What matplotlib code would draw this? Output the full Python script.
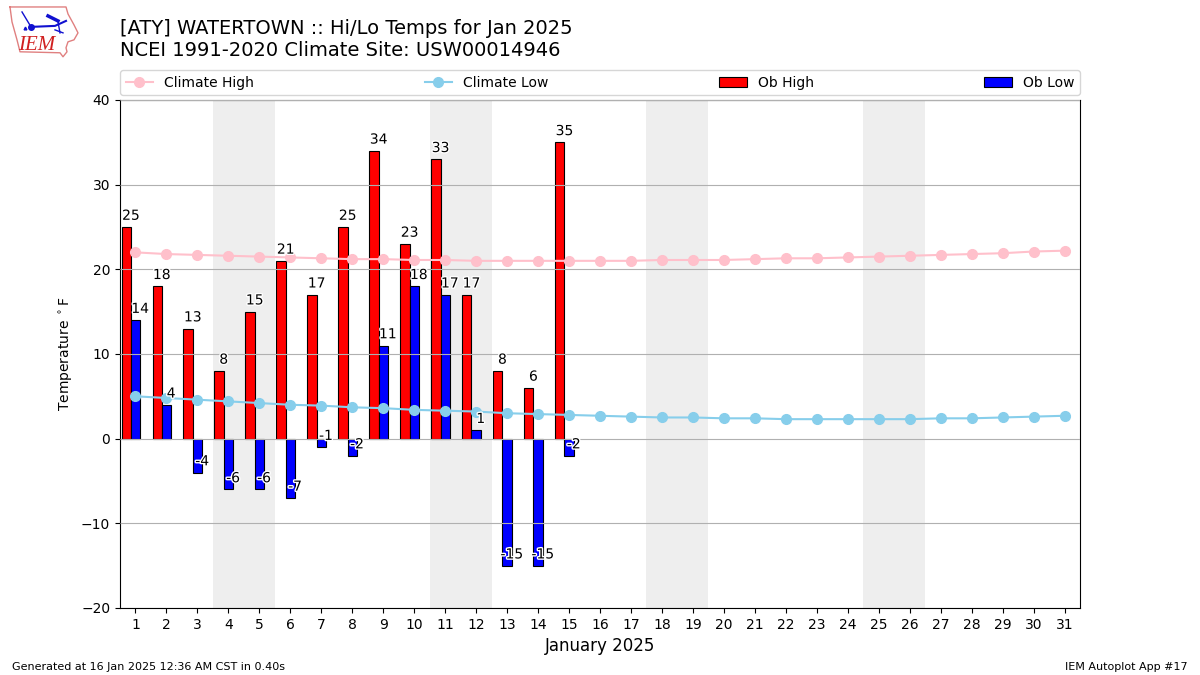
import matplotlib
matplotlib.use("Agg")
import matplotlib.pyplot as plt
import matplotlib.patheffects as pe
import numpy as np

days = np.arange(1, 32)
clim_high = [22.0, 21.8, 21.7, 21.6, 21.5, 21.4, 21.3, 21.2, 21.2, 21.1, 21.1,
             21.0, 21.0, 21.0, 21.0, 21.0, 21.0, 21.1, 21.1, 21.1, 21.2, 21.3,
             21.3, 21.4, 21.5, 21.6, 21.7, 21.8, 21.9, 22.1, 22.2]
clim_low = [5.0, 4.8, 4.6, 4.4, 4.2, 4.0, 3.9, 3.7, 3.6, 3.4, 3.3, 3.2, 3.0,
            2.9, 2.8, 2.7, 2.6, 2.5, 2.5, 2.4, 2.4, 2.3, 2.3, 2.3, 2.3, 2.3,
            2.4, 2.4, 2.5, 2.6, 2.7]
ob_days = np.arange(1, 16)
ob_high = [25, 18, 13, 8, 15, 21, 17, 25, 34, 23, 33, 17, 8, 6, 35]
ob_low = [14, 4, -4, -6, -6, -7, -1, -2, 11, 18, 17, 1, -15, -15, -2]
weekends = [4, 11, 18, 25]

fig = plt.figure(figsize=(12, 6.75), dpi=100)
ax = fig.add_axes([0.1, 0.0993, 0.8, 0.7526])

for d in weekends:
    ax.axvspan(d - 0.5, d + 1.5, color="#eeeeee", lw=0, zorder=0)

ax.bar(ob_days - 0.3, ob_high, width=0.3, color="red", edgecolor="black", lw=0.8,
       label="Ob High", zorder=2)
ax.bar(ob_days, ob_low, width=0.3, color="blue", edgecolor="black", lw=0.8,
       label="Ob Low", zorder=2)
ax.plot(days, clim_high, color="pink", marker="o", ms=7, lw=1.5, label="Climate High", zorder=3)
ax.plot(days, clim_low, color="skyblue", marker="o", ms=7, lw=1.5, label="Climate Low", zorder=3)

# value labels sit just above the bar end, white halo so they read over the bars
white = [pe.withStroke(linewidth=2, foreground="white")]
for d, v in zip(ob_days, ob_high):
    ax.text(d - 0.15, v + 0.85, str(v), ha="center", va="baseline", fontsize=10,
            path_effects=white, zorder=5)
for d, v in zip(ob_days, ob_low):
    ax.text(d + 0.15, v + 0.85, str(v), ha="center", va="baseline", fontsize=10,
            path_effects=white, zorder=5)

ax.set_xlim(0.5, 31.5)
ax.set_ylim(-20, 40)
ax.set_xticks(days)
ax.set_yticks(range(-20, 41, 10))
ax.yaxis.grid(True, color="#b0b0b0", lw=0.8)
ax.set_axisbelow(False)
ax.set_ylabel(r"Temperature $^\circ$F")
ax.set_xlabel("January 2025", fontsize=12)

handles, labels = ax.get_legend_handles_labels()
order = [labels.index(n) for n in ["Climate High", "Climate Low", "Ob High", "Ob Low"]]
ax.legend([handles[i] for i in order], [labels[i] for i in order], ncol=4, mode="expand",
          loc="lower left", bbox_to_anchor=(0, 1.0095, 1, 0.05), borderaxespad=0, fontsize=10)

fig.text(0.1, 0.9105, "[ATY] WATERTOWN :: Hi/Lo Temps for Jan 2025\nNCEI 1991-2020 Climate Site: USW00014946",
         fontsize=14, ha="left", va="bottom")
fig.text(0.01, 0.0045, "Generated at 16 Jan 2025 12:36 AM CST in 0.40s", fontsize=8, ha="left", va="bottom")
fig.text(0.99, 0.0045, "IEM Autoplot App #17", fontsize=8, ha="right", va="bottom")

# rough stand-in for the logo
logo = fig.add_axes([0.0, 0.91, 0.07, 0.09])
logo.set_xlim(0, 84)
logo.set_ylim(61, 0)
logo.axis("off")
state_x = [10, 66, 68, 74, 78, 74, 68, 66, 67, 63, 60, 20, 17, 12, 10]
state_y = [7, 7, 14, 25, 33, 40, 42, 48, 52, 57, 53, 52, 40, 22, 7]
logo.plot(state_x, state_y, color="#e08080", lw=1)
logo.plot([31, 55, 66], [27, 26, 21], color="#1010d0", lw=1.5)
logo.plot([31], [27], "o", color="#1010d0", ms=4)
logo.plot([22, 31], [12, 27], color="#1010d0", lw=1)
logo.plot([48, 58], [16, 21], color="#1010d0", lw=2.5)
logo.plot([58, 60], [22, 33], color="#1010d0", lw=1)
logo.plot([55, 63], [30, 33], color="#1010d0", lw=1)
logo.plot([25], [28], "^", color="#1010d0", ms=2)
logo.text(37, 46, "IEM", color="#d02020", fontsize=15, family="Liberation Serif",
          style="italic", ha="center", va="center")

fig.savefig("out.png", dpi=100)
